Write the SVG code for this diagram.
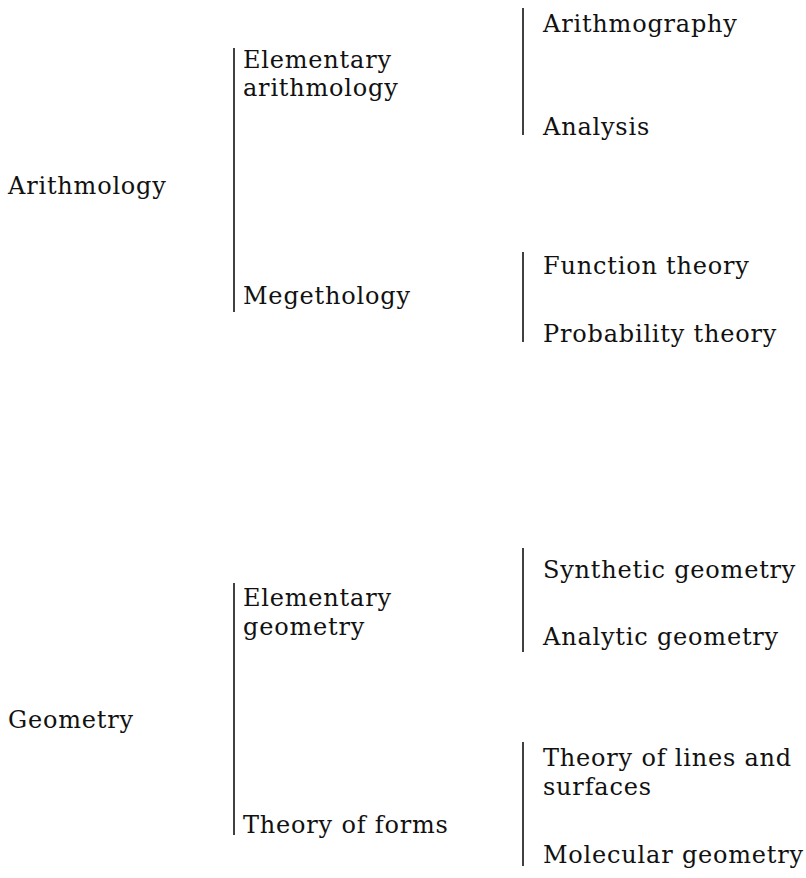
<svg xmlns="http://www.w3.org/2000/svg" width="806" height="878" viewBox="0 0 806 878">
<style>
text{font-family:"DejaVu Serif","Liberation Serif",serif;font-size:24px;letter-spacing:0.8px;fill:#111}
.br{stroke:#111;stroke-width:1.6;fill:none}
</style>
<rect width="806" height="878" fill="#fff"/>
<g id="connectors">
<line class="br" x1="234" y1="48" x2="234" y2="312"/>
<line class="br" x1="523" y1="8" x2="523" y2="135"/>
<line class="br" x1="523" y1="252" x2="523" y2="342"/>
<line class="br" x1="234" y1="583" x2="234" y2="835"/>
<line class="br" x1="523" y1="548" x2="523" y2="652"/>
<line class="br" x1="523" y1="742" x2="523" y2="866"/>
</g>
<g id="arithmology"><text x="8" y="194">Arithmology</text></g>
<g id="elementary-arithmology"><text x="243" y="68">Elementary</text><text x="243" y="96">arithmology</text></g>
<g id="megethology"><text x="243" y="304">Megethology</text></g>
<g id="arithmography"><text x="543" y="32">Arithmography</text></g>
<g id="analysis"><text x="543" y="135">Analysis</text></g>
<g id="function-theory"><text x="543" y="274">Function theory</text></g>
<g id="probability-theory"><text x="543" y="342">Probability theory</text></g>
<g id="geometry"><text x="8" y="728">Geometry</text></g>
<g id="elementary-geometry"><text x="243" y="606">Elementary</text><text x="243" y="635">geometry</text></g>
<g id="theory-of-forms"><text x="243" y="833">Theory of forms</text></g>
<g id="synthetic-geometry"><text x="543" y="578">Synthetic geometry</text></g>
<g id="analytic-geometry"><text x="543" y="645">Analytic geometry</text></g>
<g id="theory-of-lines"><text x="543" y="766">Theory of lines and</text><text x="543" y="795">surfaces</text></g>
<g id="molecular-geometry"><text x="543" y="863">Molecular geometry</text></g>
</svg>
